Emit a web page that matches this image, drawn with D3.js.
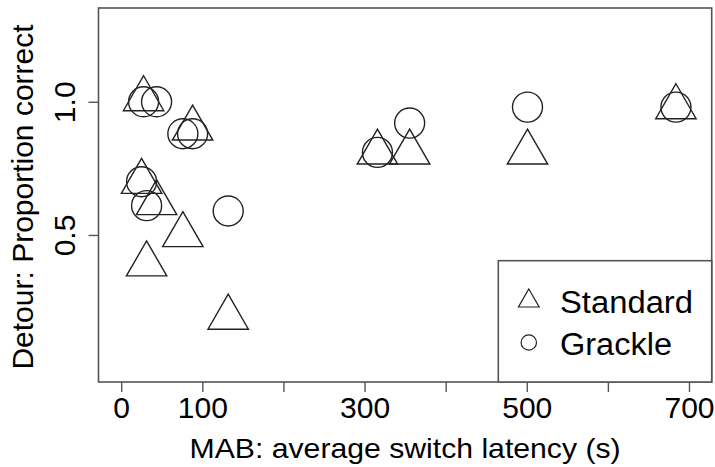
<!DOCTYPE html>
<html>
<head>
<meta charset="utf-8">
<script src="https://cdn.jsdelivr.net/npm/d3@7"></script>
<style>
  html, body { margin: 0; padding: 0; background: #fff; }
  svg { display: block; font-family: "Liberation Sans", Arial, Helvetica, sans-serif; }
</style>
</head>
<body>
<svg id="chart" width="715" height="467"></svg>
<script>
// ---- data ----
const latency  = [27.6, 43.6, 88.0, 76.0, 25.1, 31.3, 131.9, 315.9, 355.6, 500.9, 683.9];
const standard = [1.01, 0.62, 0.90, 0.50, 0.70, 0.39, 0.19, 0.81, 0.81, 0.81, 0.98];
const grackle  = [1.00, 1.00, 0.88, 0.88, 0.70, 0.61, 0.59, 0.81, 0.92, 0.98, 0.98];
const xTicks = [0, 100, 200, 300, 400, 500, 600, 700];
const xTickLabels = ["0", "100", "", "300", "", "500", "", "700"];
const yTicks = [0.5, 1.0];
const yTickLabels = ["0.5", "1.0"];
const legendLabels = ["Standard", "Grackle"];
const xTitle = "MAB: average switch latency (s)";
const yTitle = "Detour: Proportion correct";

// ---- layout ----
const svg = d3.select("#chart");
const L = 98.5, R = 711.7, T = 8, B = 382;
const x = d3.scaleLinear().domain([-28, 728]).range([L, R]);
const y = d3.scaleLinear().domain([-0.052, 1.352]).range([B, T]);

const ink = "#222";
const frame = "#555";

const bigSize = 707;   // symbol area, plot points
const smallSize = 186; // symbol area, legend

const tri = d3.symbol().type(d3.symbolTriangle).size(bigSize);
const circ = d3.symbol().type(d3.symbolCircle).size(bigSize);

const pts = svg.append("g");
pts.selectAll("path.std").data(latency.map((v, i) => [v, standard[i]]))
  .join("path").attr("class", "std")
  .attr("d", tri)
  .attr("transform", d => `translate(${x(d[0])},${y(d[1])})`)
  .attr("fill", "none").attr("stroke", ink).attr("stroke-width", 1.4);
pts.selectAll("path.grk").data(latency.map((v, i) => [v, grackle[i]]))
  .join("path").attr("class", "grk")
  .attr("d", circ)
  .attr("transform", d => `translate(${x(d[0])},${y(d[1])})`)
  .attr("fill", "none").attr("stroke", ink).attr("stroke-width", 1.4);

// plot frame
svg.append("rect").attr("x", L).attr("y", T).attr("width", R - L).attr("height", B - T)
  .attr("fill", "none").attr("stroke", frame).attr("stroke-width", 1.6);

// x axis
const xAxis = d3.axisBottom(x).tickValues(xTicks).tickSize(10)
  .tickFormat((d, i) => xTickLabels[i]);
const gx = svg.append("g").attr("transform", `translate(0,${B})`).call(xAxis);
gx.select(".domain").remove();
gx.selectAll("line").attr("stroke", frame).attr("stroke-width", 1.4);
gx.selectAll("text").attr("font-size", 30).attr("fill", "#000")
  .attr("dy", null).attr("y", 36).attr("font-family", "Liberation Sans, Arial, sans-serif");

// y axis
const yAxis = d3.axisLeft(y).tickValues(yTicks).tickSize(10)
  .tickFormat((d, i) => yTickLabels[i]);
const gy = svg.append("g").attr("transform", `translate(${L},0)`).call(yAxis);
gy.select(".domain").remove();
gy.selectAll("line").attr("stroke", frame).attr("stroke-width", 1.4);
gy.selectAll("text")
  .attr("font-size", 30).attr("fill", "#000").attr("font-family", "Liberation Sans, Arial, sans-serif")
  .attr("x", null).attr("dy", null)
  .attr("text-anchor", "middle")
  .attr("transform", "translate(-23.5,0) rotate(-90)");

// axis titles
svg.append("text").attr("x", (L + R) / 2).attr("y", 458)
  .attr("text-anchor", "middle").attr("font-size", 28).attr("fill", "#000")
  .attr("textLength", 431).attr("lengthAdjust", "spacingAndGlyphs")
  .text(xTitle);
svg.append("text")
  .attr("transform", `translate(33,${(T + B) / 2 + 2}) rotate(-90)`)
  .attr("text-anchor", "middle").attr("font-size", 30).attr("fill", "#000")
  .text(yTitle);

// legend
const lg = svg.append("g");
lg.append("rect").attr("x", 498.3).attr("y", 260.7).attr("width", R - 498.3).attr("height", B - 260.7)
  .attr("fill", "#fff").attr("stroke", frame).attr("stroke-width", 1.6);
const legY = [301, 342.5];
const legLen = [133, 112];
const legSym = [d3.symbol().type(d3.symbolTriangle).size(smallSize)(), d3.symbol().type(d3.symbolCircle).size(smallSize)()];
legendLabels.forEach((lab, i) => {
  lg.append("path").attr("d", legSym[i])
    .attr("transform", `translate(528.8,${legY[i]})`)
    .attr("fill", "none").attr("stroke", ink).attr("stroke-width", 1.2);
  lg.append("text").attr("x", 560).attr("y", legY[i] + 12)
    .attr("font-size", 31).attr("fill", "#000")
    .attr("textLength", legLen[i]).attr("lengthAdjust", "spacingAndGlyphs")
    .text(lab);
});
</script>
</body>
</html>
